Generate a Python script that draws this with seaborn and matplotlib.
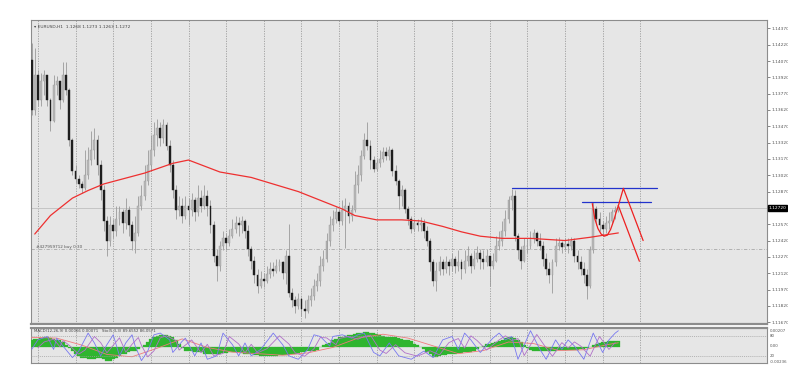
import matplotlib
matplotlib.use("Agg")
import matplotlib.pyplot as plt
import matplotlib.transforms as mtransforms
import seaborn as sns
import pandas as pd

sns.set_style("white")
plt.rcParams['font.family'] = ['DejaVu Sans']

# EURUSD H1 candles (opens are the previous close)
first_open = 1.1408
closes = [1.1362, 1.1394, 1.1371, 1.1389, 1.1394, 1.1371, 1.1352, 1.1385, 1.1389, 1.1371,
          1.1394, 1.1380, 1.1334, 1.1306, 1.1299, 1.1294, 1.1290, 1.1302, 1.1316, 1.1325,
          1.1334, 1.1311, 1.1288, 1.1260, 1.1242, 1.1256, 1.1251, 1.1262, 1.1268, 1.1258,
          1.1270, 1.1256, 1.1242, 1.1249, 1.1274, 1.1283, 1.1297, 1.1311, 1.1325, 1.1339,
          1.1345, 1.1336, 1.1348, 1.1329, 1.1311, 1.1288, 1.1270, 1.1274, 1.1265, 1.1274,
          1.1270, 1.1279, 1.1268, 1.1281, 1.1274, 1.1283, 1.1274, 1.1256, 1.1228, 1.1219,
          1.1237, 1.1244, 1.1240, 1.1246, 1.1253, 1.1258, 1.1256, 1.1260, 1.1251, 1.1234,
          1.1223, 1.1210, 1.1200, 1.1207, 1.1205, 1.1211, 1.1216, 1.1214, 1.1219, 1.1222,
          1.1212, 1.1228, 1.1194, 1.1187, 1.1182, 1.1188, 1.1179, 1.1177, 1.1187, 1.1191,
          1.1200, 1.1205, 1.1219, 1.1225, 1.1242, 1.1256, 1.1262, 1.1268, 1.1260, 1.1270,
          1.1274, 1.1265, 1.1270, 1.1293, 1.1302, 1.1320, 1.1334, 1.1329, 1.1316, 1.1308,
          1.1313, 1.1317, 1.1323, 1.1320, 1.1325, 1.1306, 1.1297, 1.1283, 1.1288, 1.1271,
          1.1262, 1.1253, 1.1258, 1.1256, 1.1258, 1.1251, 1.1242, 1.1222, 1.1205, 1.1214,
          1.1222, 1.1216, 1.1222, 1.1219, 1.1225, 1.1219, 1.1222, 1.1216, 1.1223, 1.1228,
          1.1219, 1.1225, 1.1231, 1.1225, 1.1222, 1.1228, 1.1219, 1.1223, 1.1237, 1.1242,
          1.1251, 1.1262, 1.1279, 1.1283, 1.1246, 1.1233, 1.1223, 1.1237, 1.1237, 1.1244,
          1.1249, 1.1242, 1.1237, 1.1225, 1.1216, 1.1210, 1.1222, 1.1237, 1.1240, 1.1236,
          1.1239, 1.1237, 1.1242, 1.1228, 1.1222, 1.1216, 1.1210, 1.1200, 1.1233, 1.1271,
          1.1262, 1.1256, 1.1253, 1.1258, 1.1260, 1.1268, 1.1270, 1.1272]
highs = [1.1424, 1.1419, 1.1399, 1.1396, 1.1399, 1.1394, 1.1373, 1.1394, 1.1393, 1.1389,
         1.1406, 1.1406, 1.1382, 1.1336, 1.1311, 1.1302, 1.1297, 1.1325, 1.1328, 1.1343,
         1.1345, 1.1339, 1.1316, 1.1293, 1.1265, 1.1265, 1.1262, 1.1274, 1.1274, 1.1271,
         1.1281, 1.1274, 1.1260, 1.1265, 1.1283, 1.1293, 1.1311, 1.1325, 1.1339, 1.1351,
         1.1354, 1.1351, 1.1354, 1.1351, 1.1334, 1.1316, 1.1293, 1.1283, 1.1281, 1.1283,
         1.1281, 1.1286, 1.1282, 1.1293, 1.1288, 1.1293, 1.1288, 1.1279, 1.1260, 1.1234,
         1.1242, 1.1251, 1.1249, 1.1253, 1.1262, 1.1265, 1.1264, 1.1265, 1.1262, 1.1256,
         1.1237, 1.1228, 1.1216, 1.1214, 1.1212, 1.1219, 1.1222, 1.1222, 1.1225, 1.1225,
         1.1223, 1.1233, 1.1257, 1.1198, 1.1191, 1.1194, 1.1190, 1.1187, 1.1192, 1.1198,
         1.1207, 1.1212, 1.1228, 1.1233, 1.1249, 1.1265, 1.1270, 1.1273, 1.1271, 1.1279,
         1.1281, 1.1277, 1.1275, 1.1306, 1.1311, 1.1325, 1.1341, 1.1351, 1.1334, 1.1320,
         1.1317, 1.1325, 1.1328, 1.1328, 1.1329, 1.1327, 1.1311, 1.1299, 1.1293, 1.1290,
         1.1274, 1.1265, 1.1262, 1.1262, 1.1264, 1.1262, 1.1255, 1.1244, 1.1225, 1.1222,
         1.1228, 1.1225, 1.1228, 1.1225, 1.1231, 1.1228, 1.1233, 1.1225, 1.1233, 1.1237,
         1.1231, 1.1233, 1.1237, 1.1234, 1.1233, 1.1234, 1.1228, 1.1231, 1.1246, 1.1251,
         1.1260, 1.1270, 1.1283, 1.1289, 1.1288, 1.1249, 1.1237, 1.1244, 1.1244, 1.1251,
         1.1253, 1.1251, 1.1249, 1.1242, 1.1231, 1.1222, 1.1225, 1.1244, 1.1245, 1.1242,
         1.1244, 1.1244, 1.1245, 1.1244, 1.1233, 1.1228, 1.1222, 1.1216, 1.1237, 1.1277,
         1.1274, 1.1268, 1.1260, 1.1265, 1.1268, 1.1271, 1.1274, 1.1275]
lows = [1.1357, 1.1357, 1.1366, 1.1366, 1.1376, 1.1366, 1.1343, 1.1351, 1.1376, 1.1363,
        1.1369, 1.1376, 1.1329, 1.1302, 1.1295, 1.1290, 1.1286, 1.1288, 1.1299, 1.1311,
        1.1317, 1.1302, 1.1279, 1.1251, 1.1228, 1.1237, 1.1244, 1.1246, 1.1256, 1.1249,
        1.1253, 1.1246, 1.1233, 1.1231, 1.1246, 1.1270, 1.1279, 1.1293, 1.1306, 1.1320,
        1.1329, 1.1329, 1.1332, 1.1325, 1.1305, 1.1281, 1.1262, 1.1265, 1.1258, 1.1262,
        1.1256, 1.1265, 1.1260, 1.1265, 1.1268, 1.1271, 1.1265, 1.1249, 1.1222, 1.1205,
        1.1214, 1.1233, 1.1233, 1.1237, 1.1244, 1.1249, 1.1246, 1.1249, 1.1244, 1.1228,
        1.1216, 1.1203, 1.1194, 1.1198, 1.1199, 1.1203, 1.1208, 1.1209, 1.1212, 1.1214,
        1.1207, 1.1202, 1.1190, 1.1181, 1.1175, 1.1179, 1.1173, 1.1171, 1.1175, 1.1182,
        1.1187, 1.1196, 1.1200, 1.1214, 1.1222, 1.1237, 1.1251, 1.1258, 1.1256, 1.1256,
        1.1235, 1.1258, 1.1260, 1.1268, 1.1286, 1.1297, 1.1317, 1.1325, 1.1308, 1.1305,
        1.1306, 1.1310, 1.1314, 1.1316, 1.1316, 1.1301, 1.1293, 1.1271, 1.1274, 1.1267,
        1.1256, 1.1249, 1.1251, 1.1251, 1.1251, 1.1244, 1.1237, 1.1214, 1.1200, 1.1196,
        1.1210, 1.1210, 1.1212, 1.1210, 1.1214, 1.1212, 1.1214, 1.1207, 1.1212, 1.1219,
        1.1212, 1.1216, 1.1222, 1.1216, 1.1216, 1.1219, 1.1200, 1.1216, 1.1222, 1.1233,
        1.1237, 1.1246, 1.1258, 1.1270, 1.1242, 1.1225, 1.1216, 1.1222, 1.1231, 1.1234,
        1.1240, 1.1237, 1.1233, 1.1219, 1.1210, 1.1203, 1.1194, 1.1219, 1.1233, 1.1231,
        1.1233, 1.1231, 1.1233, 1.1222, 1.1216, 1.1210, 1.1203, 1.1188, 1.1198, 1.1231,
        1.1256, 1.1251, 1.1246, 1.1249, 1.1253, 1.1258, 1.1262, 1.1268]

# moving average (red line) read at sample bars
ma_bars = [1, 6, 13, 18, 23, 36, 45, 50, 60, 70, 85, 92, 99, 103, 110, 118, 124,
           131, 137, 143, 150, 159, 170, 178, 187]
ma_values = [1.1248, 1.1265, 1.1281, 1.1288, 1.1294, 1.1304, 1.1313, 1.1316, 1.1305,
             1.1300, 1.1287, 1.1279, 1.1271, 1.1265, 1.1261, 1.1261, 1.1260, 1.1255,
             1.1250, 1.1246, 1.1244, 1.1244, 1.1242, 1.1245, 1.1249]

# MACD histogram, one value per bar (units of 0.0001)
macd_hist = [9, 10, 10, 11, 12, 12, 11, 10, 9, 8, 6, 2, -2, -6, -9, -12, -14, -15, -16, -16,
             -16, -15, -15, -16, -18, -18, -16, -14, -12, -10, -9, -7, -6, -5, -3, -1, 2, 6, 10, 13,
             14, 15, 15, 15, 14, 12, 8, 3, -2, -5, -6, -6, -7, -7, -7, -9, -10, -10, -10, -9,
             -9, -8, -8, -7, -7, -7, -7, -8, -9, -9, -10, -11, -11, -12, -12, -12, -12, -12, -12, -11,
             -11, -11, -11, -10, -9, -8, -7, -7, -6, -6, -6, -4, -1, 2, 4, 5, 8, 10, 12, 13,
             14, 15, 15, 16, 17, 18, 19, 19, 18, 17, 16, 15, 14, 13, 13, 12, 12, 11, 10, 9,
             9, 7, 4, 2, 0, -3, -7, -10, -13, -13, -12, -11, -11, -10, -10, -9, -8, -8, -7, -7,
             -7, -5, -3, -1, 1, 3, 4, 5, 6, 7, 9, 11, 12, 13, 11, 9, 6, 2, -2, -4,
             -5, -5, -5, -5, -5, -5, -5, -5, -4, -4, -4, -4, -4, -4, -4, -3, -3, -2, 0, 2,
             4, 5, 6, 6, 7, 7, 7, 7]
macd_sig_bars = [0, 8, 16, 24, 32, 40, 48, 56, 64, 72, 80, 88, 96, 104, 112, 120, 128,
                 136, 144, 152, 160, 168, 176, 184, 187]
macd_sig = [12, 11, 2, -10, -13, -2, 10, -1, -7, -9, -11, -8, -1, 11, 16, 11, 1, -9, -5,
            6, 4, -5, -4, 3, 5]

# stochastic main line, turning points
sto_bars = [0, 2, 5, 7, 8, 10, 13, 15, 18, 20, 22, 24, 26, 28, 30, 32, 33, 35, 37, 39, 41,
            44, 45, 48, 49, 52, 54, 56, 59, 61, 64, 66, 68, 70, 73, 77, 80, 82, 85, 88, 90,
            92, 95, 96, 99, 102, 104, 106, 109, 111, 114, 117, 121, 125, 128, 131, 134, 136,
            138, 140, 143, 147, 149, 151, 153, 155, 159, 162, 164, 167, 169, 171, 173, 176,
            179, 182, 184, 186, 187]
sto_main = [40, 68, 78, 40, 73, 50, 16, 35, 88, 59, 21, 54, 83, 21, 59, 83, 50, 7, 35, 83, 88,
            68, 31, 64, 73, 21, 59, 11, 21, 88, 54, 21, 59, 21, 40, 88, 54, 21, 11, 40, 83,
            78, 50, 78, 83, 73, 83, 88, 31, 21, 59, 21, 11, 35, 16, 68, 78, 40,
            88, 68, 31, 73, 88, 68, 78, 11, 95, 40, 11, 68, 40, 68, 50, 11,
            88, 31, 68, 88, 95]
# stochastic signal line, lagging the main line by two bars
sto_sig_bars = [2, 4, 7, 9, 10, 12, 15, 17, 20, 22, 24, 26, 28, 30, 32, 34, 35, 37, 39, 41, 43,
                46, 47, 50, 51, 54, 56, 58, 61, 63, 66, 68, 70, 72, 75, 79, 82, 84, 87, 90,
                92, 94, 97, 98, 101, 104, 106, 108, 111, 113, 116, 119, 123, 127, 130, 133, 136,
                138, 140, 142, 145, 149, 151, 153, 155, 157, 161, 164, 166, 169, 171, 173, 175,
                178, 181, 184, 186]
sto_sig = [45, 62, 70, 48, 66, 52, 26, 38, 78, 60, 30, 52, 74, 32, 55, 75, 52, 18, 36, 74, 80,
           66, 38, 60, 68, 30, 55, 22, 28, 78, 56, 30, 55, 30, 42, 80, 56, 30, 20, 42, 75,
           74, 54, 72, 78, 70, 78, 82, 38, 28, 54, 30, 20, 36, 24, 60, 72,
           44, 80, 66, 38, 68, 80, 66, 72, 22, 84, 44, 20, 60, 44, 62, 50,
           20, 78, 40, 60]

price_ticks = [1.1437 - 0.0015 * k for k in range(19)]
bid = 1.1272
order_price = 1.1234

n = len(closes)
df = pd.DataFrame({"bar": range(n), "close": closes, "high": highs, "low": lows})
df["open"] = [first_open] + closes[:-1]
df["bull"] = df["close"] >= df["open"]

bg = "#e6e6e6"
fig = plt.figure(figsize=(7.88, 3.75), dpi=100)
fig.patch.set_facecolor("white")
ax = fig.add_axes([31 / 788, 51 / 375, 736 / 788, 304 / 375])
ax2 = fig.add_axes([31 / 788, 12 / 375, 736 / 788, 35 / 375])
x_left = -0.2
x_right = x_left + 736 / 3.1375
for a in (ax, ax2):
    a.set_facecolor(bg)
    a.set_xlim(x_left, x_right)
    for s in a.spines.values():
        s.set_color("#8c8c8c")
        s.set_linewidth(0.8)
    for g in range(2, 195, 12):
        a.axvline(g, color="#9c9c9c", lw=0.6, ls=(0, (1.5, 1.5)), zorder=1)
ax.spines["bottom"].set_linewidth(1.6)
ax2.spines["top"].set_linewidth(1.6)

ax.set_ylim(1.11653, 1.14447)
ax.axhline(bid, color="#c4c4c4", lw=0.7, zorder=1)
ax.axhline(order_price, color="#a8a8a8", lw=0.6, ls=(0, (4, 2, 1, 2)), zorder=1)

# candles
ax.vlines(df["bar"], df["low"], df["high"], color="#9a9a9a", lw=0.6, zorder=3)
body_lo = df[["open", "close"]].min(axis=1)
body_h = (df["close"] - df["open"]).abs().clip(lower=0.00004)
ax.bar(df["bar"][df["bull"]], body_h[df["bull"]], bottom=body_lo[df["bull"]], width=0.6,
       color="#b9b9b9", edgecolor="#9a9a9a", linewidth=0.3, zorder=4)
ax.bar(df["bar"][~df["bull"]], body_h[~df["bull"]], bottom=body_lo[~df["bull"]], width=0.6,
       color="#1e1e1e", edgecolor="#1e1e1e", linewidth=0.3, zorder=4)

sns.lineplot(x=ma_bars, y=ma_values, ax=ax, color="#ee3030", lw=0.9, zorder=5)

# drawn objects
ax.plot([153, 199.4], [1.1290, 1.1290], color="#2233cc", lw=0.9, zorder=6)
ax.plot([175.5, 197.5], [1.1277, 1.1277], color="#2233cc", lw=0.9, zorder=6)
cup_x = [178.7, 179.5, 180.5, 181.5, 182.5, 183.5, 184.5, 185.5, 186.3, 187]
cup_y = [1.1276, 1.1262, 1.1253, 1.1248, 1.1246, 1.1247, 1.1252, 1.1260, 1.1268, 1.1274]
ax.plot(cup_x, cup_y, color="#ee2020", lw=0.9, zorder=6)
ax.plot([187, 188.6, 194.9], [1.1274, 1.1290, 1.1242], color="#ee2020", lw=0.9, zorder=6)
ax.plot([187, 193.7], [1.1274, 1.1223], color="#ee2020", lw=0.9, zorder=6)

ax.set_xticks([])
ax.yaxis.tick_right()
shown = [t for k, t in enumerate(price_ticks) if k != 11]
ax.set_yticks(shown)
ax.set_yticklabels([f"{t:.5f}" for t in shown])
ax.tick_params(axis="y", labelsize=3.2, length=2, width=0.5, pad=1,
               colors="#555555", labelcolor="#555555")
ax.set_ylabel("")
ax.set_xlabel("")
ax.text(1.002, bid, f"{bid:.5f}", transform=mtransforms.blended_transform_factory(ax.transAxes, ax.transData),
        fontsize=3.2, color="white", va="center", ha="left", clip_on=False,
        bbox=dict(boxstyle="square,pad=0.15", fc="black", ec="black"), zorder=10)
ax.text(0.004, 0.985, "\u25be EURUSD,H1  1.1268 1.1273 1.1263 1.1272", transform=ax.transAxes,
        fontsize=3.2, color="#444444", va="top", ha="left")
ax.text(1.5, order_price + 0.00005, "#427959712 buy 0.30", fontsize=3.0, color="#555555",
        va="bottom", ha="left")

# indicator window: MACD + stochastic
ax2.set_ylim(-0.0021, 0.0024)
ax2.bar(range(n), [v / 10000 for v in macd_hist], width=1.0, color="#2fb52f",
        edgecolor="#2fb52f", linewidth=0.2, zorder=3)
sns.lineplot(x=macd_sig_bars, y=[v / 10000 for v in macd_sig], ax=ax2, color="#f07a7a",
             lw=0.6, zorder=4)
ax3 = ax2.twinx()
ax3.set_ylim(0, 103)
ax3.set_xlim(x_left, x_right)
for lvl in (80, 20):
    ax3.axhline(lvl, color="#a0a0a0", lw=0.5, ls=(0, (1.5, 1.5)), zorder=1)
sns.lineplot(x=sto_bars, y=sto_main, ax=ax3, color="#7878f0", lw=0.6, zorder=5)
sns.lineplot(x=sto_sig_bars, y=sto_sig, ax=ax3, color="#b070c8", lw=0.6, zorder=5)
for a in (ax2, ax3):
    a.set_xticks([])
    a.set_yticks([])
    a.set_ylabel("")
    a.set_xlabel("")
ax3.patch.set_visible(False)
for s in ax3.spines.values():
    s.set_visible(False)
ax3.text(0.004, 0.97, "MACD(12,26,9) 0.00066 0.00071   Sto(5,3,3) 89.6552 86.0571",
         transform=ax3.transAxes, fontsize=2.8, color="#444444", va="top", ha="left")
tr = mtransforms.blended_transform_factory(ax3.transAxes, ax3.transData)
for val, lab in [(94, "0.00207"), (80, "80"), (49, "0.00"), (20, "20"), (3, "-0.00236")]:
    ax3.text(1.004, val, lab, transform=tr, fontsize=2.8, color="#555555", va="center",
             ha="left", clip_on=False)

fig.savefig("out.png", dpi=100, facecolor="white")
